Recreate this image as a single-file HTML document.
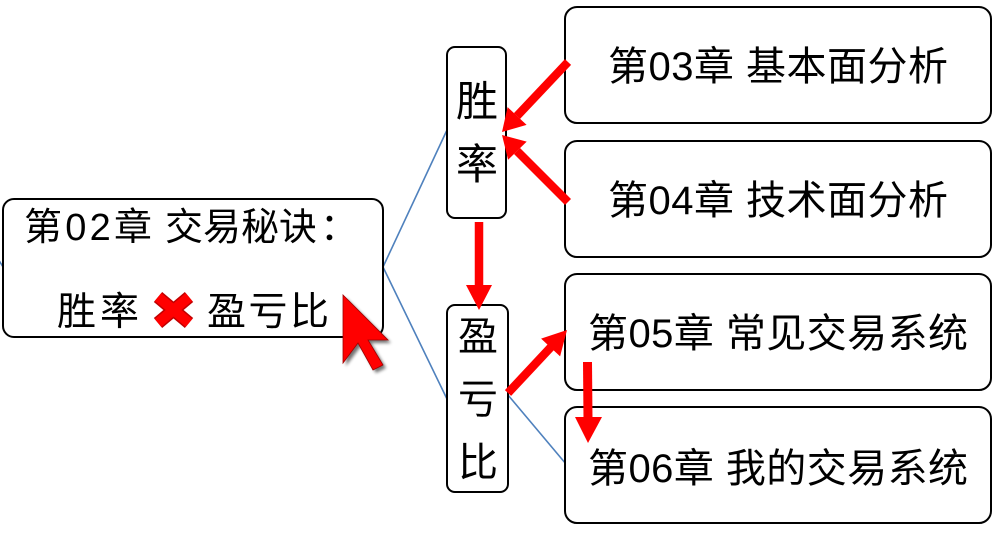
<!DOCTYPE html>
<html>
<head>
<meta charset="utf-8">
<style>
  html, body { margin: 0; padding: 0; background: #fff; }
  svg { display: block; }
  text { font-family: "Liberation Sans", "Noto Sans CJK SC", sans-serif; fill: #000; }
</style>
</head>
<body>
<svg width="1002" height="546" viewBox="0 0 1002 546" xmlns="http://www.w3.org/2000/svg">
  <defs>
    <filter id="blur" x="-20%" y="-20%" width="140%" height="140%">
      <feGaussianBlur stdDeviation="1.5"/>
    </filter>
  </defs>
  <rect width="1002" height="546" fill="#fff"/>

  <!-- blue connector lines -->
  <g stroke="#4f81bd" stroke-width="1.6" fill="none">
    <line x1="-6" y1="252" x2="3" y2="267"/>
    <line x1="383" y1="267" x2="447" y2="130"/>
    <line x1="383" y1="267" x2="447" y2="399"/>
    <line x1="508" y1="395" x2="566" y2="464"/>
  </g>

  <!-- boxes -->
  <g fill="#fff" stroke="#000" stroke-width="2">
    <rect x="3" y="199" width="380" height="138" rx="11"/>
    <rect x="447" y="47" width="59" height="171" rx="8"/>
    <rect x="447" y="305" width="61" height="187" rx="8"/>
    <rect x="565" y="7" width="426" height="116" rx="12"/>
    <rect x="565" y="141" width="426" height="116" rx="12"/>
    <rect x="565" y="274" width="426" height="116" rx="12"/>
    <rect x="565" y="407" width="426" height="116" rx="12"/>
  </g>

  <!-- main box text -->
  <text x="24" y="240" font-size="38" textLength="128">第02章</text>
  <text x="165" y="240" font-size="38" textLength="152">交易秘诀</text>
  <text x="320" y="240" font-size="38">：</text>
  <text x="57" y="325" font-size="39" textLength="82">胜率</text>
  <text x="207" y="325" font-size="39" textLength="122">盈亏比</text>

  <!-- red X -->
  <g stroke-linecap="butt">
    <line x1="158" y1="297" x2="189" y2="323" stroke="#c00000" stroke-width="13"/>
    <line x1="189" y1="297" x2="158" y2="323" stroke="#c00000" stroke-width="13"/>
    <line x1="158" y1="297" x2="189" y2="323" stroke="#ff0000" stroke-width="10"/>
    <line x1="189" y1="297" x2="158" y2="323" stroke="#ff0000" stroke-width="10"/>
  </g>

  <!-- vertical node text -->
  <text x="477" y="116" font-size="42" text-anchor="middle">胜</text>
  <text x="477" y="179" font-size="42" text-anchor="middle">率</text>
  <text x="478" y="350" font-size="40" text-anchor="middle">盈</text>
  <text x="478" y="413" font-size="40" text-anchor="middle">亏</text>
  <text x="478" y="476" font-size="40" text-anchor="middle">比</text>

  <!-- right boxes text -->
  <text x="608" y="80" font-size="40" textLength="340">第03章 基本面分析</text>
  <text x="608" y="214" font-size="40" textLength="340">第04章 技术面分析</text>
  <text x="588" y="347" font-size="40" textLength="380">第05章 常见交易系统</text>
  <text x="588" y="482" font-size="40" textLength="380">第06章 我的交易系统</text>

  <!-- red arrows -->
  <g fill="#ff0000" stroke="none">
    <line x1="568" y1="62" x2="517" y2="116" stroke="#ff0000" stroke-width="8.5"/>
    <polygon points="502,132 507.6,107.1 526.6,124.9"/>
    <line x1="568" y1="202" x2="517" y2="151" stroke="#ff0000" stroke-width="8.5"/>
    <polygon points="502,135 526.7,141.6 508.1,159.8"/>
    <line x1="479" y1="222" x2="479" y2="287" stroke="#ff0000" stroke-width="8.5"/>
    <polygon points="479,310 466,285 492,285"/>
    <line x1="508" y1="393" x2="551" y2="347" stroke="#ff0000" stroke-width="8.5"/>
    <polygon points="567,330 560.1,356.4 541.1,338.6"/>
    <line x1="587.5" y1="362" x2="588" y2="419" stroke="#ff0000" stroke-width="9"/>
    <polygon points="588,443 575,417 602,417"/>
  </g>

  <!-- cursor -->
  <polygon points="346,298 346,366 361,346 376,373 386,368 371,343 391,343" fill="#000" opacity="0.55" filter="url(#blur)"/>
  <polygon points="343,295 343,363 358,343 373,370 383,365 368,340 388,340" fill="#ff0000" stroke="#a00000" stroke-width="0.8"/>
</svg>
</body>
</html>
